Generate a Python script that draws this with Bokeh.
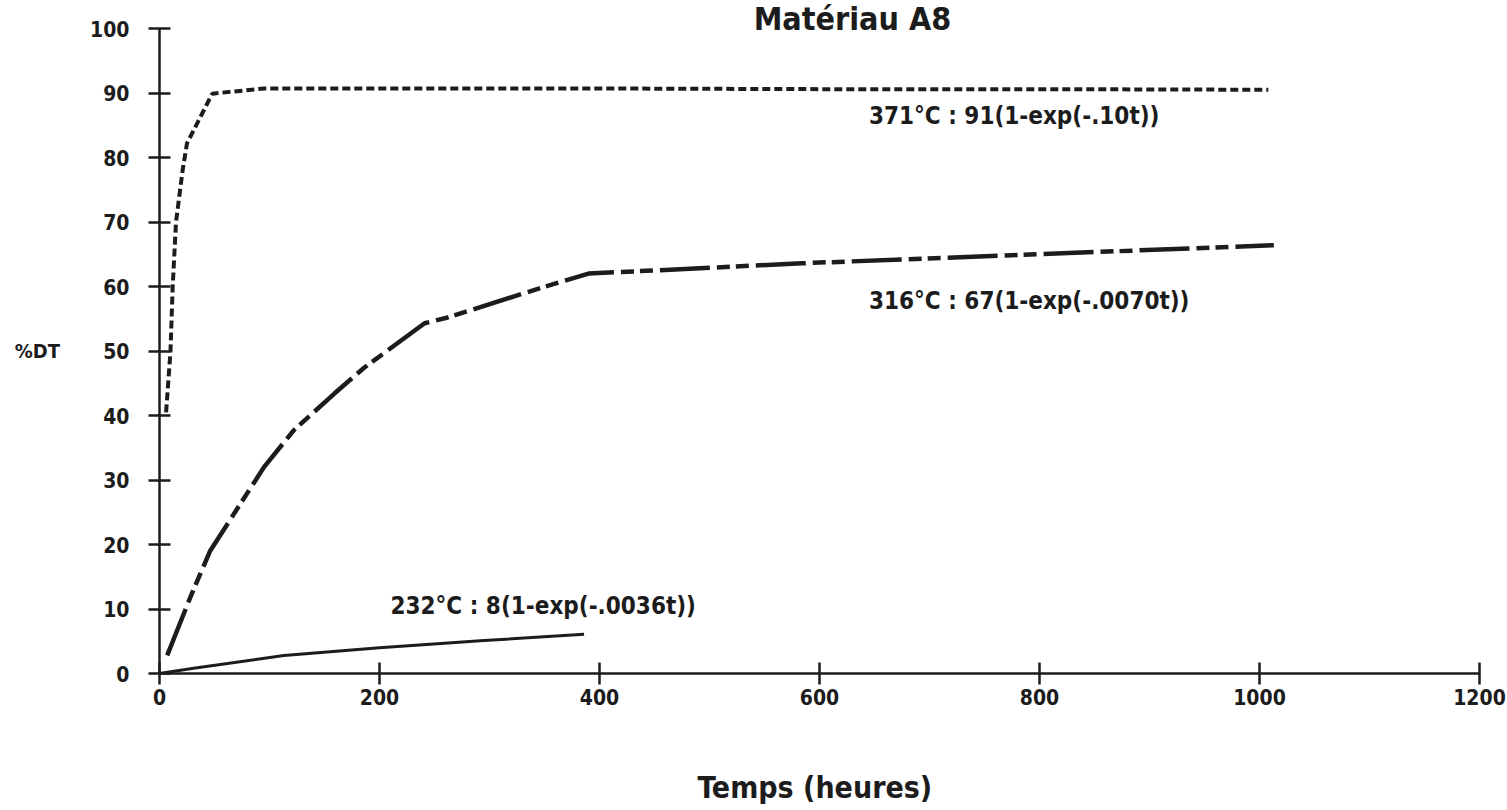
from bokeh.plotting import figure
from bokeh.models import Range1d, FixedTicker
from bokeh.core.properties import value
from bokeh.embed import file_html
from bokeh.resources import INLINE

# ---- data ----
t_371 = [6, 10, 12, 15, 21, 25, 48, 95, 200, 400, 600, 800, 1008]
y_371 = [40.5, 50, 60, 70, 78, 82.2, 89.9, 90.7, 90.7, 90.7, 90.6, 90.6, 90.5]

t_316 = [7, 28, 46, 95, 122, 159, 186, 241, 262, 347, 390, 584, 1013]
y_316 = [2.8, 11.8, 19.0, 32.0, 37.7, 43.4, 47.4, 54.3, 55.2, 59.8, 62.0, 63.6, 66.4]

t_232 = [0, 31, 113, 200, 295, 386]
y_232 = [0, 0.8, 2.8, 4.0, 5.1, 6.1]

x_ticks = [0, 200, 400, 600, 800, 1000, 1200]
y_ticks = [0, 10, 20, 30, 40, 50, 60, 70, 80, 90, 100]

label_texts = ["371°C :  91(1-exp(-.10t))", "316°C :  67(1-exp(-.0070t))", "232°C :  8(1-exp(-.0036t))"]
label_x = [645, 645, 210]
label_y = [86.5, 57.8, 10.4]

title_text = ["Matériau A8"]
title_x = [630]
title_y = [101.4]
x_title = "Temps  (heures)"
y_title = "\n%DT"

FONT = "DejaVu Sans Condensed"
INK = "#1c1c1c"

p = figure(frame_width=1320, frame_height=673,
           min_border_left=159, min_border_right=28,
           min_border_top=0, min_border_bottom=137,
           x_range=Range1d(0, 1200), y_range=Range1d(0, 100 * 673 / 645),
           output_backend="svg", toolbar_location=None,
           background_fill_color="white", border_fill_color="white")
p.outline_line_color = None
p.grid.visible = False

for ax in (p.xaxis[0], p.yaxis[0]):
    ax.axis_line_width = 2.5
    ax.axis_line_color = INK
    ax.major_tick_line_width = 2.5
    ax.major_tick_line_color = INK
    ax.major_tick_in = 11
    ax.major_tick_out = 11
    ax.minor_tick_line_color = None
    ax.major_label_text_font = FONT
    ax.major_label_text_font_style = "bold"
    ax.major_label_text_font_size = "21px"
    ax.major_label_text_color = INK
    ax.axis_label_text_font = FONT
    ax.axis_label_text_font_style = "bold"
    ax.axis_label_text_color = INK

p.yaxis.bounds = (0, 100)
p.xaxis.ticker = FixedTicker(ticks=x_ticks)
p.yaxis.ticker = FixedTicker(ticks=y_ticks)
p.xaxis.major_label_standoff = 4
p.yaxis.major_label_standoff = 19

p.xaxis.axis_label = x_title
p.xaxis.axis_label_text_font_size = "30px"
p.xaxis.axis_label_standoff = 62
p.yaxis.axis_label = y_title
p.yaxis.axis_label_text_font_size = "20px"
p.yaxis.axis_label_orientation = "horizontal"
p.yaxis.axis_label_standoff = 27

# curves
p.line(t_371, y_371, line_color=INK, line_width=4, line_dash="8 4")
p.line(t_316, y_316, line_color=INK, line_width=4.5, line_dash="50 7 13 6 13 7")
p.line(t_232, y_232, line_color=INK, line_width=3)

# equation labels
p.text(x=label_x, y=label_y, text=label_texts, text_font=value(FONT),
       text_font_style="bold", text_font_size="24px", text_color=INK,
       text_baseline="middle", text_align="left")

# title at the very top edge, as in the reference
p.text(x=title_x, y=title_y, text=title_text, text_font=value(FONT),
       text_font_style="bold", text_font_size="32px", text_color=INK,
       text_baseline="alphabetic", text_align="center")

open("out.html", "w").write(file_html(p, INLINE))
